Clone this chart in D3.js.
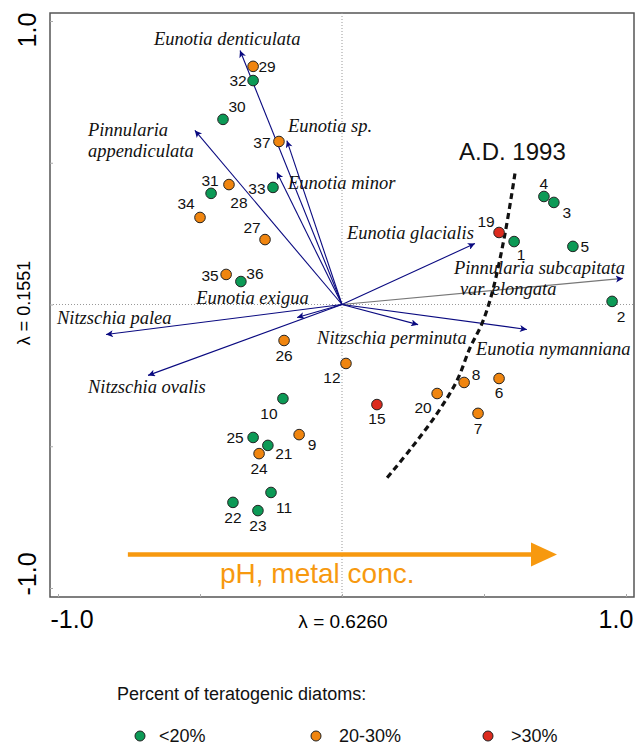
<!DOCTYPE html>
<html>
<head>
<meta charset="utf-8">
<script src="https://cdn.jsdelivr.net/npm/d3@7"></script>
<style>
  body { margin: 0; background: #fff; }
  svg { display: block; }
  .sans { font-family: Arial, "Liberation Sans", sans-serif; }
  .species { font-family: "Liberation Serif", "Times New Roman", serif; font-style: italic; font-size: 18.5px; fill: #111; }
</style>
</head>
<body>
<div id="chart"></div>
<script>
// ---- data ----
// site scores (axis 1, axis 2) and teratogenic class: 0 = <20%, 1 = 20-30%, 2 = >30%
const siteIds   = [1, 2, 3, 4, 5, 6, 7, 8, 9, 10, 11, 12, 15, 19, 20, 21, 22, 23, 24, 25, 26, 27, 28, 29, 30, 31, 32, 33, 34, 35, 36, 37];
const siteAx1   = [0.606, 0.951, 0.746, 0.711, 0.813, 0.553, 0.479, 0.430, -0.151, -0.208, -0.250, 0.014, 0.123, 0.553, 0.335, -0.261, -0.384, -0.296, -0.292, -0.313, -0.204, -0.271, -0.398, -0.313, -0.419, -0.461, -0.313, -0.243, -0.500, -0.408, -0.356, -0.222];
const siteAx2   = [0.222, 0.011, 0.360, 0.381, 0.205, -0.261, -0.384, -0.275, -0.459, -0.332, -0.663, -0.208, -0.353, 0.254, -0.314, -0.497, -0.698, -0.727, -0.526, -0.469, -0.127, 0.229, 0.423, 0.840, 0.653, 0.392, 0.790, 0.413, 0.307, 0.106, 0.081, 0.575];
const siteClass = [0, 0, 0, 0, 0, 1, 1, 1, 1, 0, 0, 1, 2, 2, 1, 0, 0, 0, 1, 0, 1, 1, 1, 1, 0, 0, 0, 0, 1, 1, 0, 1];

// species vectors
const speciesNames = ["Eunotia denticulata", "Eunotia sp.", "Eunotia minor", "Pinnularia appendiculata",
                      "Eunotia glacialis", "Pinnularia subcapitata var. elongata", "Eunotia exigua",
                      "Nitzschia palea", "Nitzschia ovalis", "Nitzschia perminuta", "Eunotia nymanniana"];
const speciesAx1 = [-0.359, -0.194, -0.229, -0.518, 0.468, 0.989, -0.158, -0.831, -0.683, 0.268, 0.651];
const speciesAx2 = [0.896, 0.578, 0.466, 0.614, 0.215, 0.092, -0.046, -0.106, -0.250, -0.071, -0.088];

// A.D. 1993 boundary (axis coordinates)
const boundaryAx1 = [0.609, 0.574, 0.528, 0.493, 0.451, 0.405, 0.335, 0.246, 0.151];
const boundaryAx2 = [0.462, 0.250, 0.039, -0.067, -0.152, -0.268, -0.384, -0.504, -0.621];

// gradient arrow (axis coordinates)
const gradientAx1 = [-0.754, 0.757];
const gradientAx2 = [-0.882, -0.882];

const axisTicks = [-1, -0.5, 0, 0.5, 1];
const classLabels = ["<20%", "20-30%", ">30%"];
const classColors = ["#0c9a56", "#f0850f", "#dc2b1e"];

// ---- layout (label offsets in px) ----
const siteLabelOffset = {
    1: [7, 13], 2: [9, 15], 3: [13, 10], 4: [0, -13], 5: [12, 0], 6: [0, 14], 7: [0, 15], 8: [12, -8],
    9: [13, 10], 10: [-14, 15], 11: [13, 15], 12: [-14, 14], 15: [0, 14], 19: [-13, -11], 20: [-14, 14],
    21: [16, 8], 22: [0, 15], 23: [0, 15], 24: [0, 15], 25: [-18, 0], 26: [0, 15], 27: [-13, -12],
    28: [10, 18], 29: [14, 0], 30: [14, -13], 31: [-1, -13], 32: [-15, 0], 33: [-16, 1], 34: [-14, -14],
    35: [-16, 1], 36: [14, -8], 37: [-17, 1]
};
// [dx, dy] of first line start from arrow tip; lines of the label
const speciesLabelPos = [
    {dx: -86, dy: -5, lines: ["Eunotia denticulata"]},
    {dx: 1, dy: -9, lines: ["Eunotia sp."]},
    {dx: 11, dy: 17, lines: ["Eunotia minor"]},
    {dx: -107, dy: 6, lines: ["Pinnularia", "appendiculata"]},
    {dx: -128, dy: -5, lines: ["Eunotia glacialis"]},
    {dx: -169, dy: -4, lines: ["Pinnularia subcapitata", "var. elongata"], indent: [0, 6]},
    {dx: -101, dy: -14, lines: ["Eunotia exigua"]},
    {dx: -49, dy: -11, lines: ["Nitzschia palea"]},
    {dx: -60, dy: 18, lines: ["Nitzschia ovalis"]},
    {dx: -101, dy: 19, lines: ["Nitzschia perminuta"]},
    {dx: -51, dy: 26, lines: ["Eunotia nymanniana"]}
];

const width = 635, height = 745;
const frame = {left: 50, top: 13, right: 634, bottom: 597};

const svg = d3.select("#chart").append("svg")
    .attr("width", width)
    .attr("height", height);

const x = d3.scaleLinear().domain([-1, 1]).range([58, 626]);
const y = d3.scaleLinear().domain([-1, 1]).range([588, 21]);

// arrowhead markers
const defs = svg.append("defs");
defs.append("marker")
    .attr("id", "head")
    .attr("viewBox", "0 0 10 10")
    .attr("refX", 10).attr("refY", 5)
    .attr("markerWidth", 11).attr("markerHeight", 7)
    .attr("markerUnits", "userSpaceOnUse")
    .attr("orient", "auto")
    .append("path")
    .attr("d", "M0,0 L10,5 L0,10 L2.5,5 Z")
    .attr("fill", "#0a0a80");

// frame
svg.append("rect")
    .attr("x", frame.left).attr("y", frame.top)
    .attr("width", frame.right - frame.left)
    .attr("height", frame.bottom - frame.top)
    .attr("fill", "none")
    .attr("stroke", "#555")
    .attr("stroke-width", 1.5);

// tick marks
svg.append("g")
    .attr("transform", `translate(0,${frame.bottom})`)
    .call(d3.axisBottom(x).tickValues(axisTicks).tickSize(-3).tickFormat(""))
    .call(g => g.select(".domain").remove())
    .call(g => g.selectAll("line").attr("stroke", "#aaa"));

svg.append("g")
    .attr("transform", `translate(${frame.left},0)`)
    .call(d3.axisLeft(y).tickValues(axisTicks).tickSize(-3).tickFormat(""))
    .call(g => g.select(".domain").remove())
    .call(g => g.selectAll("line").attr("stroke", "#aaa"));

// dotted zero lines
svg.append("line")
    .attr("x1", x(0)).attr("x2", x(0))
    .attr("y1", frame.top).attr("y2", frame.bottom)
    .attr("stroke", "#999").attr("stroke-dasharray", "1,2");
svg.append("line")
    .attr("x1", frame.left).attr("x2", frame.right)
    .attr("y1", y(0)).attr("y2", y(0))
    .attr("stroke", "#999").attr("stroke-dasharray", "1,2");

// axis labels
svg.append("text").attr("class", "sans")
    .attr("x", 72).attr("y", 628)
    .attr("text-anchor", "middle").style("font-size", "25px").text("-1.0");
svg.append("text").attr("class", "sans")
    .attr("x", 616).attr("y", 628)
    .attr("text-anchor", "middle").style("font-size", "25px").text("1.0");
svg.append("text").attr("class", "sans")
    .attr("x", 343).attr("y", 628)
    .attr("text-anchor", "middle").style("font-size", "19px").text("λ = 0.6260");

svg.append("text").attr("class", "sans")
    .attr("transform", "translate(36,30) rotate(-90)")
    .attr("text-anchor", "middle").style("font-size", "25px").text("1.0");
svg.append("text").attr("class", "sans")
    .attr("transform", "translate(36,574) rotate(-90)")
    .attr("text-anchor", "middle").style("font-size", "25px").text("-1.0");
svg.append("text").attr("class", "sans")
    .attr("transform", "translate(30,303) rotate(-90)")
    .attr("text-anchor", "middle").style("font-size", "18px").text("λ = 0.1551");

// species arrows
const species = speciesNames.map((name, i) => ({name, ax1: speciesAx1[i], ax2: speciesAx2[i], pos: speciesLabelPos[i]}));

svg.append("g").selectAll("line")
    .data(species)
    .enter()
    .append("line")
    .attr("x1", x(0)).attr("y1", y(0))
    .attr("x2", d => x(d.ax1)).attr("y2", d => y(d.ax2))
    .attr("stroke", d => d.name.includes("subcapitata") ? "#777" : "#0a0a80")
    .attr("stroke-width", 1.1)
    .attr("marker-end", "url(#head)");

const labelG = svg.append("g");
species.forEach(d => {
    d.pos.lines.forEach((line, j) => {
        labelG.append("text")
            .attr("class", "species")
            .attr("x", x(d.ax1) + d.pos.dx + (d.pos.indent ? d.pos.indent[j] : 0))
            .attr("y", y(d.ax2) + d.pos.dy + j * 21)
            .text(line);
    });
});

// A.D. 1993 boundary
const boundary = boundaryAx1.map((v, i) => [v, boundaryAx2[i]]);
svg.append("path")
    .datum(boundary)
    .attr("d", d3.line().x(d => x(d[0])).y(d => y(d[1])).curve(d3.curveCatmullRom))
    .attr("fill", "none")
    .attr("stroke", "#111")
    .attr("stroke-width", 3.2)
    .attr("stroke-dasharray", "6,4");

svg.append("text").attr("class", "sans")
    .attr("x", 459).attr("y", 160)
    .style("font-size", "24px").style("fill", "#111")
    .text("A.D. 1993");

// gradient arrow
svg.append("line")
    .attr("x1", x(gradientAx1[0])).attr("y1", y(gradientAx2[0]))
    .attr("x2", x(gradientAx1[1]) - 24).attr("y2", y(gradientAx2[1]))
    .attr("stroke", "#f7990f").attr("stroke-width", 4.5);
svg.append("path")
    .attr("d", `M${x(gradientAx1[1])},${y(gradientAx2[1])} l-26,-12 l0,24 Z`)
    .attr("fill", "#f7990f");
svg.append("text").attr("class", "sans")
    .attr("x", 220).attr("y", 583)
    .style("font-size", "28px").style("fill", "#f7990f")
    .text("pH, metal conc.");

// sites
const sites = siteIds.map((id, i) => ({id, ax1: siteAx1[i], ax2: siteAx2[i], cls: siteClass[i]}));

svg.append("g").selectAll("circle")
    .data(sites)
    .enter()
    .append("circle")
    .attr("cx", d => x(d.ax1))
    .attr("cy", d => y(d.ax2))
    .attr("r", 5.3)
    .attr("fill", d => classColors[d.cls])
    .attr("stroke", "#222")
    .attr("stroke-width", 1);

svg.append("g").selectAll("text")
    .data(sites)
    .enter()
    .append("text")
    .attr("class", "sans")
    .attr("x", d => x(d.ax1) + siteLabelOffset[d.id][0])
    .attr("y", d => y(d.ax2) + siteLabelOffset[d.id][1])
    .attr("text-anchor", "middle")
    .attr("dominant-baseline", "central")
    .style("font-size", "15.5px")
    .style("fill", "#111")
    .text(d => d.id);

// legend
svg.append("text").attr("class", "sans")
    .attr("x", 117).attr("y", 700)
    .style("font-size", "18px").style("fill", "#111")
    .text("Percent of teratogenic diatoms:");

const legendX = [140, 316, 488];
const legend = svg.append("g").selectAll("g")
    .data(classLabels)
    .enter()
    .append("g")
    .attr("transform", (d, i) => `translate(${legendX[i]},736)`);
legend.append("circle")
    .attr("r", 5)
    .attr("fill", (d, i) => classColors[i])
    .attr("stroke", "#222");
legend.append("text").attr("class", "sans")
    .attr("x", (d, i) => i === 0 ? 19 : 23)
    .attr("y", 6)
    .style("font-size", "18px").style("fill", "#111")
    .text(d => d);
</script>
</body>
</html>
